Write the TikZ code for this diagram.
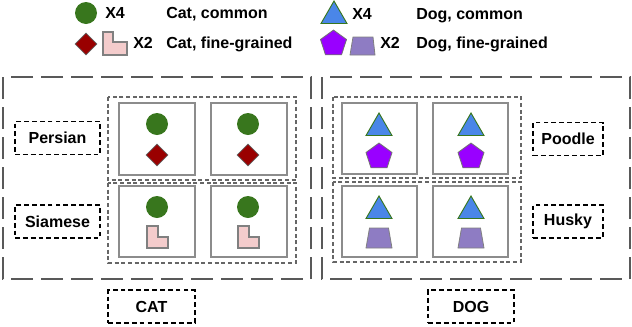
\documentclass[tikz,border=0pt]{standalone}
\usepackage{fontspec}
\setmainfont{Liberation Sans}
\usetikzlibrary{shapes.geometric}
\definecolor{catgreen}{HTML}{38761D}
\definecolor{catred}{HTML}{990000}
\definecolor{catpink}{HTML}{F4CCCC}
\definecolor{dogblue}{HTML}{4A86E8}
\definecolor{dogviolet}{HTML}{9900FF}
\definecolor{doglilac}{HTML}{8E7CC3}
\tikzset{
  classbox/.style={draw=black!65,line width=2pt,dash pattern=on 16.5pt off 6pt},
  groupbox/.style={draw=black!60,line width=0.9pt,dash pattern=on 3pt off 2pt},
  imgbox/.style={draw=black!45,line width=1.2pt},
  tagbox/.style={draw,line width=1.2pt,dash pattern=on 3.6pt off 2.3pt,inner sep=0pt,
    minimum height=24.5pt},
  commoncat/.style={circle,fill=catgreen,minimum size=16.5pt,inner sep=0pt},
  finecat/.style={diamond,fill=catred,draw=black!60,line width=0.6pt,minimum size=16.5pt,inner sep=0pt},
  commondog/.style={regular polygon,regular polygon sides=3,fill=dogblue,draw=catgreen,
    line width=0.7pt,minimum size=22.5pt,inner sep=0pt},
  finedog/.style={regular polygon,regular polygon sides=5,fill=dogviolet,draw=black!55,
    line width=0.6pt,minimum size=20.5pt,inner sep=0pt},
  legtext/.style={anchor=base west,inner sep=0pt}
}
\begin{document}
\begin{tikzpicture}[x=0.75pt,y=-0.75pt,font=\fontsize{12}{14}\selectfont\bfseries]
  \useasboundingbox (0,0) rectangle (632,326);
  % legend
  \node[commoncat] (lcirc) at (86,13) {};
  \node[finecat] (ldiam) at (86,44) {};
  \draw[fill=catpink,draw=black!50,line width=0.8pt] (103,32) -- (113,32) -- (113,42) -- (127,42) -- (127,55) -- (103,55) -- cycle;
  \node[legtext] (lx4cat) at (105,18) {X4};
  \node[legtext] (lx2cat) at (133,48) {X2};
  \node[legtext] (lcatc) at (166,18) {Cat, common};
  \node[legtext] (lcatf) at (166,48) {Cat, fine-grained};
  \node[commondog] (ltri) at (334,16) {};
  \node[finedog] (lpent) at (333.5,43.7) {};
  \draw[fill=doglilac,draw=black!50,line width=0.6pt] (353,37) -- (373,37) -- (375,55) -- (350,55) -- cycle;
  \node[legtext] (lx4dog) at (352,19) {X4};
  \node[legtext] (lx2dog) at (380,48) {X2};
  \node[legtext] (ldogc) at (416,19) {Dog, common};
  \node[legtext] (ldogf) at (416,48) {Dog, fine-grained};
  % class boxes
  \draw[classbox] (3,77) rectangle (311,279);
  \draw[classbox] (322,77) rectangle (630,279);
  \draw[groupbox] (108,97) rectangle (296,180);
  \draw[groupbox] (108,183) rectangle (296,263);
  \draw[groupbox] (333,97) rectangle (521,178);
  \draw[groupbox] (333,182) rectangle (521,262);
  % cat images
  \foreach \x/\c in {119/157,211/248}{
    \draw[imgbox] (\x,103) rectangle ++(76,72);
    \draw[imgbox] (\x,186) rectangle ++(76,71);
    \node[commoncat] at (\c,124) {};
    \node[finecat] at (\c,155) {};
    \node[commoncat] at (\c,207) {};
    \draw[fill=catpink,draw=black!50,line width=0.8pt] (\c-10,226) -- ++(11,0) -- ++(0,11) -- ++(10,0) -- ++(0,11) -- ++(-21,0) -- cycle;
  }
  % dog images
  \foreach \x/\c in {342/379,433/471}{
    \draw[imgbox] (\x,103) rectangle ++(75,71);
    \draw[imgbox] (\x,186) rectangle ++(75,71);
    \node[commondog] at (\c,128) {};
    \node[finedog] at (\c,156.7) {};
    \node[commondog] at (\c,211) {};
    \draw[fill=doglilac,draw=black!50,line width=0.6pt] (\c-9.5,228) -- (\c+9.5,228) -- (\c+13,248) -- (\c-13,248) -- cycle;
  }
  % tags
  \node[tagbox,minimum width=63.75pt] (persian) at (57.5,138) {Persian};
  \node[tagbox,minimum width=63.75pt] (siamese) at (57.5,221.5) {Siamese};
  \node[tagbox,minimum width=52.5pt] (poodle) at (568,139) {Poodle};
  \node[tagbox,minimum width=52.5pt] (husky) at (568,221.5) {Husky};
  \node[tagbox,minimum width=65pt] (cat) at (151.5,306.5) {CAT};
  \node[tagbox,minimum width=64.5pt] (dog) at (471,306.5) {DOG};
\end{tikzpicture}
\end{document}
